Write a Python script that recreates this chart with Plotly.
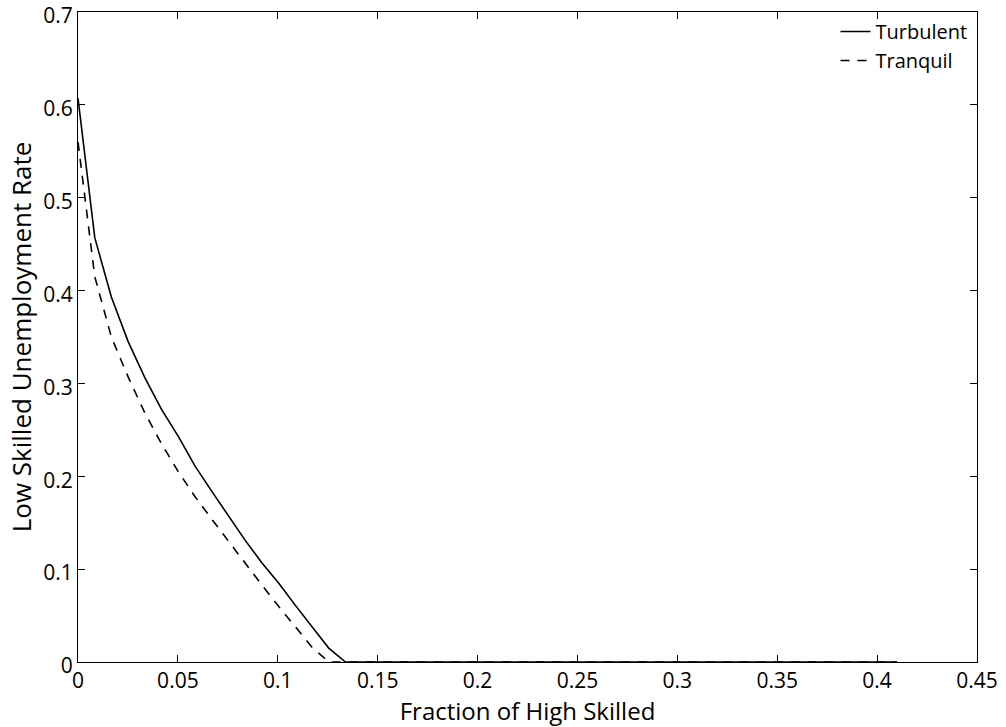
import plotly.graph_objects as go

x_turb = [0.0, 0.0084, 0.0167, 0.0251, 0.0335, 0.0418, 0.0502, 0.0586, 0.0669, 0.0753,
          0.0837, 0.0920, 0.1004, 0.1088, 0.1171, 0.1255, 0.1339, 0.2, 0.3, 0.41]
y_turb = [0.607, 0.457, 0.393, 0.345, 0.306, 0.272, 0.243, 0.211, 0.184, 0.157,
          0.131, 0.107, 0.085, 0.061, 0.038, 0.015, 0.0, 0.0, 0.0, 0.0]

x_tranq = [0.0, 0.0084, 0.0167, 0.0251, 0.0335, 0.0418, 0.0502, 0.0586, 0.0669, 0.0753,
           0.0837, 0.0920, 0.1004, 0.1088, 0.1171, 0.1255, 0.2, 0.3, 0.41]
y_tranq = [0.56, 0.415, 0.350, 0.307, 0.268, 0.235, 0.205, 0.178, 0.154, 0.130,
           0.107, 0.083, 0.060, 0.038, 0.016, 0.0, 0.0, 0.0, 0.0]

x_ticks = [0, 0.05, 0.1, 0.15, 0.2, 0.25, 0.3, 0.35, 0.4, 0.45]
x_labels = ["0", "0.05", "0.1", "0.15", "0.2", "0.25", "0.3", "0.35", "0.4", "0.45"]
y_ticks = [0, 0.1, 0.2, 0.3, 0.4, 0.5, 0.6, 0.7]
y_labels = ["0", "0.1", "0.2", "0.3", "0.4", "0.5", "0.6", "0.7"]

font_family = "Open Sans, Lato, sans-serif"

fig = go.Figure()
fig.add_trace(go.Scatter(x=x_turb, y=y_turb, mode="lines", name="Turbulent",
                         line=dict(color="black", width=1.6)))
fig.add_trace(go.Scatter(x=x_tranq, y=y_tranq, mode="lines", name="Tranquil",
                         line=dict(color="black", width=1.6, dash="9px,8px")))

axis_common = dict(showgrid=False, zeroline=False, showline=True, linecolor="black",
                   linewidth=1.2, mirror="ticks", ticks="inside", ticklen=7,
                   tickcolor="black", tickwidth=1, ticklabeloverflow="allow",
                   automargin=False,
                   tickfont=dict(family=font_family, size=21, color="black"))

fig.update_layout(
    width=1006, height=727,
    margin=dict(l=78, r=29, t=12, b=65, autoexpand=False),
    paper_bgcolor="white", plot_bgcolor="white",
    font=dict(family=font_family, color="black"),
    xaxis=dict(range=[0, 0.4500001], tickvals=x_ticks, ticktext=x_labels,
               title=dict(text="Fraction of High Skilled", font=dict(size=24), standoff=4),
               **axis_common),
    yaxis=dict(range=[0, 0.7000001], tickvals=y_ticks, ticktext=y_labels,
               ticklabelshift=4,
               title=dict(text="Low Skilled Unemployment Rate", font=dict(size=26), standoff=4),
               **axis_common),
    legend=dict(x=0.995, y=1.0, xanchor="right", yanchor="top",
                bgcolor="rgba(0,0,0,0)", font=dict(size=20, family=font_family),
                tracegroupgap=0, itemwidth=30),
    showlegend=True,
)

fig.write_html("out.html")
